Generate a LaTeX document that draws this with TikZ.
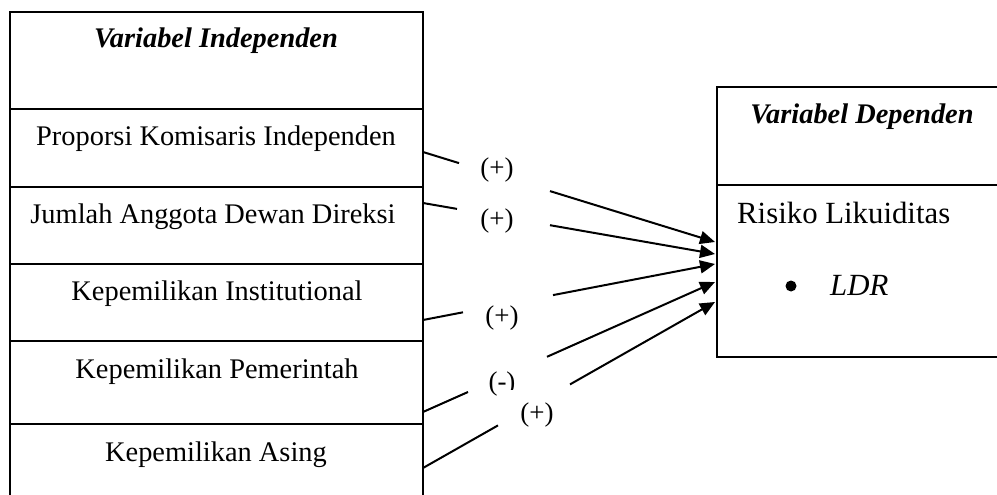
\documentclass[tikz,border=0pt]{standalone}
\usepackage{fontspec}
\setmainfont{Liberation Serif}
\usetikzlibrary{arrows.meta}

\tikzset{
  box/.style={line width=2pt},
  link/.style={line width=2pt},
  arrow/.style={link, -{Triangle[length=15pt,width=13pt]}},
  item/.style={anchor=base, inner sep=0pt, font=\fontsize{28.4}{34}\selectfont},
  head/.style={item, font=\fontsize{28.4}{34}\selectfont\bfseries\itshape},
  big/.style={item, anchor=base west, font=\fontsize{30.8}{36}\selectfont},
  sign/.style={inner sep=0pt, font=\fontsize{27}{32}\selectfont},
}

\begin{document}
\begin{tikzpicture}[x=1pt,y=-1pt]
    \clip (0,0) rectangle (997,495);

    % independent variables
    \draw[box] (10,12) rectangle (423,510);
    \foreach \y in {109,187,264,341,424} {
        \draw[box] (10,\y) -- (423,\y);
    }
    \node[head] (indep) at (216,48) {Variabel Independen};
    \node[item] (kom) at (216,146) {Proporsi Komisaris Independen};
    \node[item] (dir) at (213,223) {Jumlah Anggota Dewan Direksi};
    \node[item] (inst) at (217,300) {Kepemilikan Institutional};
    \node[item] (pem) at (217,378) {Kepemilikan Pemerintah};
    \node[item] (asing) at (216,461) {Kepemilikan Asing};

    % dependent variable
    \draw[box] (717,87) rectangle (1010,357);
    \draw[box] (717,185) -- (1010,185);
    \node[head] (dep) at (862,124) {Variabel Dependen};
    \node[big] (risk) at (737,223) {Risiko Likuiditas};
    \node[circle, fill, inner sep=0pt, minimum size=11pt] (dot) at (791,286) {};
    \node[big, font=\fontsize{30.8}{36}\selectfont\itshape] (ldr) at (830,295) {LDR};

    % start, gap and end points of the links
    \coordinate (s1) at (423,152); \coordinate (g1) at (459,163.1);
    \coordinate (h1) at (550,191.1); \coordinate (t1) at (715,242);
    \coordinate (s2) at (423,203); \coordinate (g2) at (457,208.9);
    \coordinate (h2) at (550,225.2); \coordinate (t2) at (715,254);
    \coordinate (s3) at (423,320); \coordinate (g3) at (463,312.3);
    \coordinate (h3) at (553,295.1); \coordinate (t3) at (715,264);
    \coordinate (s4) at (423,412); \coordinate (g4) at (468,392);
    \coordinate (h4) at (547,356.8); \coordinate (t4) at (715,282);
    \coordinate (s5) at (423,468); \coordinate (g5) at (498,425.4);
    \coordinate (h5) at (570,384.4); \coordinate (t5) at (715,302);

    \foreach \i in {1,...,5} {
        \draw[link] (s\i) -- (g\i);
        \draw[arrow] (h\i) -- (t\i);
    }

    \node[sign] (l1) at (497,170) {(+)};
    \node[sign] (l2) at (497,221) {(+)};
    \node[sign] (l3) at (502,318) {(+)};
    \node[sign] (l4) at (502,384) {(-)};
    \node[sign, fill=white, inner xsep=18pt, inner ysep=13pt] (l5) at (537,415) {(+)};
\end{tikzpicture}
\end{document}
